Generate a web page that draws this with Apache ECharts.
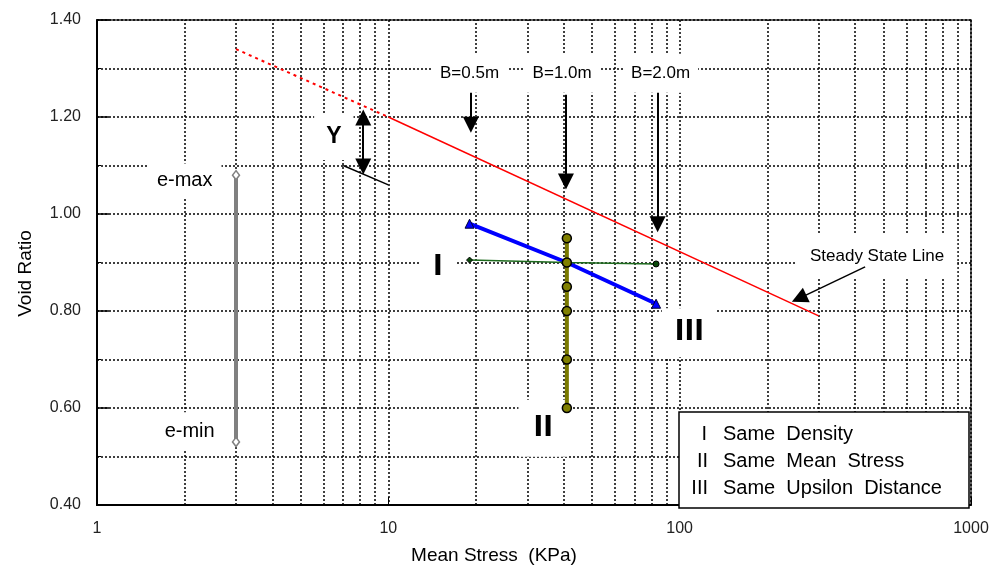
<!DOCTYPE html>
<html>
<head>
<meta charset="utf-8">
<title>Void Ratio vs Mean Stress</title>
<script src="https://cdn.jsdelivr.net/npm/echarts@6/dist/echarts.min.js"></script>
<style>
html, body { margin: 0; padding: 0; background: #fff; }
#chart { width: 993px; height: 570px; }
</style>
</head>
<body>
<div id="chart"></div>
<script>
// minor vertical grid lines (2..9 in each decade)
const xMinor = [2, 3, 4, 5, 6, 7, 8, 9, 20, 30, 40, 50, 60, 70, 80, 90, 200, 300, 400, 500, 600, 700, 800, 900]

// series
const steadyDashed = [[3, 1.34], [10, 1.20]]
const steadySolid = [[10, 1.20], [300, 0.79]]
const eRange = [[3, 1.08], [3, 0.53]]
const yRef = [[7, 1.10], [10, 1.06]]
const sameUpsilon = [[19, 0.98], [41, 0.90], [83, 0.815]]
const sameDensity = [[19, 0.905], [41, 0.90], [83, 0.897]]
const sameStress = [[41, 0.95], [41, 0.90], [41, 0.85], [41, 0.80], [41, 0.70], [41, 0.60]]

// arrows [from, head]
const arrowsB = [
  [[19.2, 1.25], [19.2, 1.184]],
  [[40.7, 1.246], [40.7, 1.067]],
  [[84, 1.25], [84, 0.979]]
]
const arrowY = [[8.2, 1.199], [8.2, 1.098]]
const arrowSteady = [[433, 0.891], [257, 0.826]]

// text notes
const noteText = ['e-max', 'e-min', 'Y', 'B=0.5m', 'B=1.0m', 'B=2.0m', 'I', 'II', 'III', 'Steady State Line']
const notePos = [[2.0, 1.069], [2.08, 0.552], [6.5, 1.16], [19, 1.29], [39.5, 1.29], [86, 1.29],
  [14.8, 0.89], [34, 0.558], [108, 0.755], [476, 0.913]]

const FONT = "'Liberation Sans', Arial, sans-serif"
const NARROW = "'Liberation Sans Narrow', 'DejaVu Sans Condensed', sans-serif"
const noteStyle = [
  { fontSize: 20, padding: [7, 9] },
  { fontSize: 20, padding: [9, 9] },
  { fontSize: 23, fontWeight: 'bold', padding: [12, 12] },
  { fontSize: 17, padding: [11, 8] },
  { fontSize: 17, padding: [11, 8] },
  { fontSize: 17, padding: [11, 8] },
  { fontSize: 29, fontFamily: NARROW, fontWeight: 'bold', padding: [12, 14] },
  { fontSize: 29, fontFamily: NARROW, fontWeight: 'bold', padding: [14, 15] },
  { fontSize: 29, fontFamily: NARROW, fontWeight: 'bold', padding: [10, 13] },
  { fontSize: 17, padding: [13, 13] }
]

const dotted = { color: '#000', type: [2, 2], width: 1.5 }

const chart = echarts.init(document.getElementById('chart'))

function arrow(pairs, size, width) {
  return {
    silent: true,
    symbol: ['none', 'triangle'],
    symbolSize: size,
    label: { show: false },
    lineStyle: { color: '#000', type: 'solid', width: width },
    z: 6,
    data: pairs.map(p => [{ coord: p[0] }, { coord: p[1] }])
  }
}

chart.setOption({
  animation: false,
  textStyle: { fontFamily: FONT },
  grid: {
    left: 97,
    right: 22,
    top: 20,
    bottom: 63,
    show: true,
    borderColor: '#333',
    borderWidth: 1.5
  },
  xAxis: {
    type: 'log',
    logBase: 10,
    min: 1,
    max: 1000,
    name: 'Mean Stress  (KPa)',
    nameLocation: 'middle',
    nameGap: 41,
    nameTextStyle: { fontSize: 19, color: '#000', padding: [0, 80, 0, 0] },
    axisLine: { lineStyle: { color: '#000', width: 2 } },
    axisTick: { inside: true, length: 8, lineStyle: { color: '#000' } },
    axisLabel: { fontSize: 16, color: '#222', margin: 16, formatter: v => String(Math.round(v)) },
    splitLine: { show: true, lineStyle: dotted }
  },
  yAxis: {
    type: 'value',
    min: 0.4,
    max: 1.4,
    interval: 0.2,
    name: 'Void Ratio',
    nameLocation: 'middle',
    nameGap: 62,
    nameTextStyle: { fontSize: 19, color: '#000', padding: [0, 22, 0, 0] },
    axisLine: { show: true, lineStyle: { color: '#000', width: 2 } },
    axisTick: { show: true, inside: true, length: 12, lineStyle: { color: '#000', width: 1.5 } },
    minorTick: { show: true, splitNumber: 2, length: 4, lineStyle: { color: '#000' } },
    axisLabel: { fontSize: 16, color: '#222', margin: 16, formatter: v => v.toFixed(2) },
    splitLine: { show: true, lineStyle: dotted },
    minorSplitLine: { show: true, lineStyle: dotted }
  },
  series: [
    {
      name: 'notes',
      type: 'scatter',
      z: 2,
      symbolSize: 0,
      itemStyle: { color: 'rgba(0,0,0,0)', opacity: 1 },
      silent: true,
      label: {
        show: true,
        position: 'inside',
        formatter: '{b}',
        color: '#000',
        opacity: 1,
        fontFamily: FONT,
        backgroundColor: '#fff'
      },
      data: noteText.map((t, i) => ({ name: t, value: notePos[i], label: noteStyle[i] })),
      markLine: {
        silent: true,
        z: 1,
        symbol: ['none', 'none'],
        label: { show: false },
        lineStyle: dotted,
        data: xMinor.map(v => ({ xAxis: v }))
      }
    },
    {
      name: 'steady dashed',
      type: 'line',
      z: 3,
      symbol: 'none',
      lineStyle: { color: '#ff0000', width: 2, type: [3, 4] },
      data: steadyDashed
    },
    {
      name: 'Steady State Line',
      type: 'line',
      z: 3,
      symbol: 'none',
      lineStyle: { color: '#ff0000', width: 1.5 },
      data: steadySolid,
      markLine: arrow([arrowSteady], 16, 1.5)
    },
    {
      name: 'e range',
      type: 'line',
      z: 3,
      symbol: 'diamond',
      symbolSize: [7, 9],
      itemStyle: { color: '#fff', borderColor: '#808080', borderWidth: 1.5 },
      lineStyle: { color: '#808080', width: 4 },
      data: eRange
    },
    {
      name: 'Y ref',
      type: 'line',
      z: 3,
      symbol: 'none',
      lineStyle: { color: '#000', width: 1.5 },
      data: yRef,
      markLine: Object.assign(arrow([arrowY], 16, 2), { symbol: ['triangle', 'triangle'] })
    },
    {
      name: 'B arrows',
      type: 'line',
      z: 3,
      symbol: 'none',
      lineStyle: { opacity: 0 },
      data: [],
      markLine: arrow(arrowsB, 16, 2)
    },
    {
      name: 'Same Upsilon Distance',
      type: 'line',
      z: 3,
      symbol: 'triangle',
      symbolSize: 9,
      itemStyle: { color: '#0000ff', borderColor: '#000033', borderWidth: 1 },
      lineStyle: { color: '#0000ff', width: 4 },
      data: sameUpsilon.map((p, i) => (i === 1 ? { value: p, symbol: 'none' } : p))
    },
    {
      name: 'Same Density',
      type: 'line',
      z: 3,
      symbolSize: 6,
      itemStyle: { color: '#0b4a0b', borderColor: '#000', borderWidth: 1 },
      lineStyle: { color: '#1e6b1e', width: 1.5 },
      data: sameDensity.map((p, i) => ({ value: p, symbol: ['diamond', 'none', 'circle'][i] }))
    },
    {
      name: 'Same Mean Stress',
      type: 'line',
      z: 4,
      symbol: 'circle',
      symbolSize: 9,
      itemStyle: { color: '#808000', borderColor: '#000', borderWidth: 1.5 },
      lineStyle: { color: '#7a7a00', width: 4 },
      data: sameStress
    }
  ],
  graphic: [
    {
      type: 'rect',
      z: 100,
      shape: { x: 679, y: 412, width: 290, height: 96 },
      style: { fill: '#fff', stroke: '#000', lineWidth: 1.5 }
    },
    { type: 'text', z: 101, style: { text: 'I', x: 707, y: 434, align: 'right', verticalAlign: 'middle', fontSize: 20, fontFamily: FONT, fill: '#000' } },
    { type: 'text', z: 101, style: { text: 'II', x: 708, y: 461, align: 'right', verticalAlign: 'middle', fontSize: 20, fontFamily: FONT, fill: '#000' } },
    { type: 'text', z: 101, style: { text: 'III', x: 708, y: 488, align: 'right', verticalAlign: 'middle', fontSize: 20, fontFamily: FONT, fill: '#000' } },
    { type: 'text', z: 101, style: { text: 'Same  Density', x: 723, y: 434, verticalAlign: 'middle', fontSize: 20, fontFamily: FONT, fill: '#000' } },
    { type: 'text', z: 101, style: { text: 'Same  Mean  Stress', x: 723, y: 461, verticalAlign: 'middle', fontSize: 20, fontFamily: FONT, fill: '#000' } },
    { type: 'text', z: 101, style: { text: 'Same  Upsilon  Distance', x: 723, y: 488, verticalAlign: 'middle', fontSize: 20, fontFamily: FONT, fill: '#000' } }
  ]
})
</script>
</body>
</html>
